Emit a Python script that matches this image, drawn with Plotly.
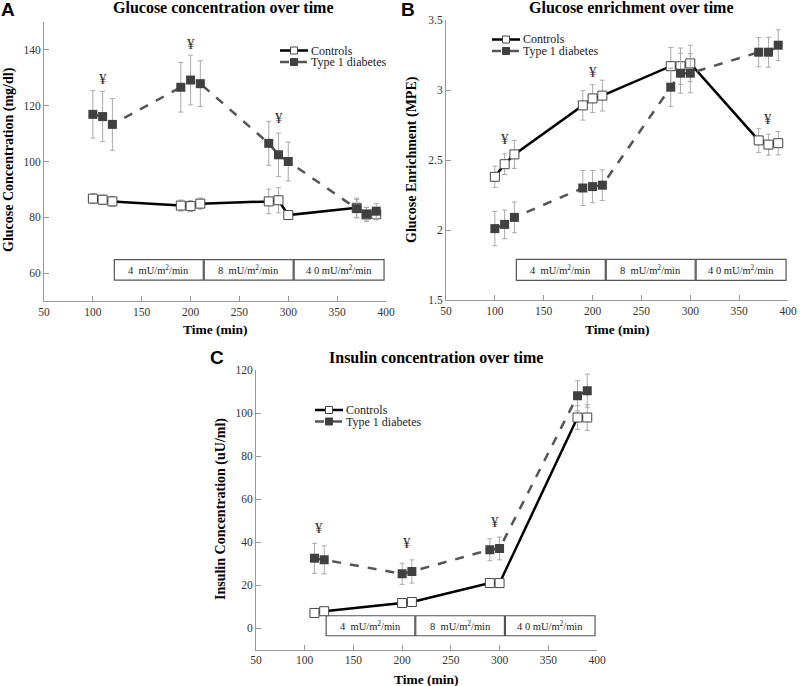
import plotly.graph_objects as go

# Panel A: glucose concentration (mg/dl)
time_a = [100, 110, 120, 190, 200, 210, 280, 290, 300, 370, 380, 390]
gluc_ctrl = [86.7, 86.3, 85.7, 84.2, 84.0, 84.9, 85.7, 86.1, 80.8, 83.4, 81.0, 81.1]
gluc_ctrl_err = [1.8, 1.7, 1.8, 2.0, 2.0, 2.0, 4.4, 4.5, 0.8, 3.5, 2.5, 2.0]
gluc_t1d = [116.9, 116.1, 113.3, 126.6, 129.2, 127.9, 106.5, 102.4, 100.0, 83.1, 81.1, 82.2]
gluc_t1d_err = [8.5, 9.0, 9.3, 8.9, 8.9, 8.2, 7.9, 7.8, 7.0, 3.3, 2.5, 2.7]
yen_a_x = [110, 200, 290]
yen_a_y = [129.5, 142, 115.5]

# Panel B: glucose enrichment (MPE)
time_b = [100, 110, 120, 190, 200, 210, 280, 290, 300, 370, 380, 390]
enr_ctrl = [2.38, 2.47, 2.54, 2.89, 2.94, 2.96, 3.17, 3.17, 3.19, 2.64, 2.61, 2.62]
enr_ctrl_err = [0.076, 0.074, 0.10, 0.105, 0.10, 0.11, 0.133, 0.13, 0.13, 0.086, 0.075, 0.083]
enr_t1d = [2.01, 2.04, 2.09, 2.30, 2.31, 2.32, 3.02, 3.12, 3.12, 3.27, 3.27, 3.32]
enr_t1d_err = [0.123, 0.103, 0.11, 0.125, 0.115, 0.11, 0.137, 0.143, 0.14, 0.104, 0.107, 0.11]
yen_b_x = [110, 200, 380]
yen_b_y = [2.65, 3.13, 2.79]

# Panel C: insulin concentration (uU/ml)
time_c = [110, 120, 200, 210, 290, 300, 380, 390]
ins_ctrl = [7.0, 7.8, 11.6, 12.1, 20.9, 20.9, 97.9, 97.9]
ins_ctrl_err = [0.6, 0.6, 0.8, 0.8, 0.8, 0.8, 5.5, 6.0]
ins_t1d = [32.4, 31.7, 25.2, 26.3, 36.4, 37.0, 108.0, 110.4]
ins_t1d_err = [7.0, 6.5, 4.9, 5.4, 5.1, 5.3, 7.0, 7.7]
yen_c_x = [115, 205, 295]
yen_c_y = [46.5, 39.5, 49.5]

# infusion phases
phase_labels = ["4  mU/m<sup>2</sup>/min", "8  mU/m<sup>2</sup>/min", "4 0 mU/m<sup>2</sup>/min"]
phase_x0 = [122, 214, 306]
phase_x1 = [213, 305, 398]

series_names = ["Controls", "Type 1 diabetes"]

SERIF = "Liberation Serif"
W, H = 800, 686


def px(x):
    return x / W


def py(y):
    return 1 - y / H


fig = go.Figure()

panels = [
    dict(ax="", t=time_a, c=gluc_ctrl, ce=gluc_ctrl_err, d=gluc_t1d, de=gluc_t1d_err,
         yx=yen_a_x, yy=yen_a_y, box=(57.5, 64.8), leg=(280, 50.5)),
    dict(ax="2", t=time_b, c=enr_ctrl, ce=enr_ctrl_err, d=enr_t1d, de=enr_t1d_err,
         yx=yen_b_x, yy=yen_b_y, box=(1.64, 1.79), leg=(492, 39.5)),
    dict(ax="3", t=time_c, c=ins_ctrl, ce=ins_ctrl_err, d=ins_t1d, de=ins_t1d_err,
         yx=yen_c_x, yy=yen_c_y, box=(-3.6, 5.7), leg=(315, 410)),
]

for p in panels:
    xa, ya = "x" + p["ax"], "y" + p["ax"]
    for x0, x1, lab in zip(phase_x0, phase_x1, phase_labels):
        fig.add_shape(type="rect", xref=xa, yref=ya, x0=x0, x1=x1,
                      y0=p["box"][0], y1=p["box"][1], layer="below",
                      line=dict(color="#555", width=1.2), fillcolor="white")
        fig.add_annotation(x=(x0 + x1) / 2, y=sum(p["box"]) / 2, xref=xa, yref=ya,
                           text=lab, showarrow=False,
                           font=dict(family=SERIF, size=10.5, color="#222"))
    fig.add_trace(go.Scatter(
        x=p["t"], y=p["c"], name=series_names[0], mode="lines+markers",
        xaxis=xa, yaxis=ya, showlegend=False,
        line=dict(color="black", width=2.5),
        marker=dict(symbol="square", size=9, color="white", line=dict(color="#444", width=1)),
        error_y=dict(type="data", array=p["ce"], color="#aaa", thickness=1, width=2.5)))
    fig.add_trace(go.Scatter(
        x=p["t"], y=p["d"], name=series_names[1], mode="lines+markers",
        xaxis=xa, yaxis=ya, showlegend=False,
        line=dict(color="#555", width=2.5, dash="dash"),
        marker=dict(symbol="square", size=9, color="#404040"),
        error_y=dict(type="data", array=p["de"], color="#aaa", thickness=1, width=2.5)))
    for xx, yy in zip(p["yx"], p["yy"]):
        fig.add_annotation(x=xx, y=yy, xref=xa, yref=ya, text="¥", showarrow=False,
                           font=dict(family=SERIF, size=15, color="#333"))

    # legend drawn by hand so the rows sit close together like the original
    lx, ly = p["leg"]
    styles = [("solid", "black", "white", "#444"), ("dash", "#555", "#404040", "#404040")]
    for i, (dash, lc, fc, mc) in enumerate(styles):
        yy = ly + i * 11.5
        fig.add_shape(type="line", xref="paper", yref="paper",
                      x0=px(lx), x1=px(lx + 28), y0=py(yy), y1=py(yy),
                      line=dict(color=lc, width=2.5, dash=dash))
        fig.add_shape(type="rect", xref="paper", yref="paper",
                      x0=px(lx + 10.5), x1=px(lx + 17.5), y0=py(yy + 3.5), y1=py(yy - 3.5),
                      fillcolor=fc, line=dict(color=mc, width=1))
        fig.add_annotation(x=px(lx + 29), y=py(yy), xref="paper", yref="paper",
                           text=series_names[i], showarrow=False, xanchor="left",
                           yanchor="middle", font=dict(family=SERIF, size=12, color="#222"))

axis_style = dict(showline=True, linecolor="#999", linewidth=1, ticks="inside",
                  ticklen=5, tickcolor="#999", showgrid=False, zeroline=False,
                  automargin=False,
                  tickfont=dict(family=SERIF, size=11.5, color="#333"))

fig.update_layout(
    width=W, height=H, margin=dict(l=0, r=0, t=0, b=0, autoexpand=False),
    paper_bgcolor="white", plot_bgcolor="white", showlegend=False,
    xaxis=dict(domain=[px(44), px(386)], range=[50, 400], dtick=50, anchor="y", **axis_style),
    yaxis=dict(domain=[py(301), py(22)], range=[50, 150], tick0=60, dtick=20, anchor="x", **axis_style),
    xaxis2=dict(domain=[px(446), px(788)], range=[50, 400], dtick=50, anchor="y2", **axis_style),
    yaxis2=dict(domain=[py(300), py(20)], range=[1.5, 3.5], dtick=0.5, anchor="x2", **axis_style),
    xaxis3=dict(domain=[px(256), px(597)], range=[50, 400], dtick=50, anchor="y3", **axis_style),
    yaxis3=dict(domain=[py(649.5), py(370)], range=[-10, 120], tick0=0, dtick=20, anchor="x3", **axis_style),
)

# titles, panel letters and axis titles
texts = [
    ("Glucose concentration over time", 223, 8, 0, 16),
    ("Glucose enrichment over time", 631, 8, 0, 16),
    ("Insulin concentration over time", 436, 357, 0, 16),
    ("Time (min)", 215, 329, 0, 13.5),
    ("Time (min)", 617, 329, 0, 13.5),
    ("Time (min)", 426, 679, 0, 13.5),
    ("Glucose Concentration (mg/dl)", 9, 160, -90, 14),
    ("Glucose Enrichment (MPE)", 412, 160, -90, 14),
    ("Insulin Concentration (uU/ml)", 221, 509, -90, 14),
]
for txt, x, y, ang, size in texts:
    fig.add_annotation(x=px(x), y=py(y), xref="paper", yref="paper", text="<b>%s</b>" % txt,
                       showarrow=False, textangle=ang, xanchor="center", yanchor="middle",
                       font=dict(family=SERIF, size=size, color="black"))

for letter, x, y in [("A", 8, 9), ("B", 408, 9), ("C", 217, 357)]:
    fig.add_annotation(x=px(x), y=py(y), xref="paper", yref="paper", text="<b>%s</b>" % letter,
                       showarrow=False, xanchor="center", yanchor="middle",
                       font=dict(family="Liberation Sans", size=19, color="black"))

# the page body has a default 8px margin; drop it so the figure fills the window
fig.write_html("out.html", config={"displayModeBar": False},
               post_script="document.body.style.margin='0';")
